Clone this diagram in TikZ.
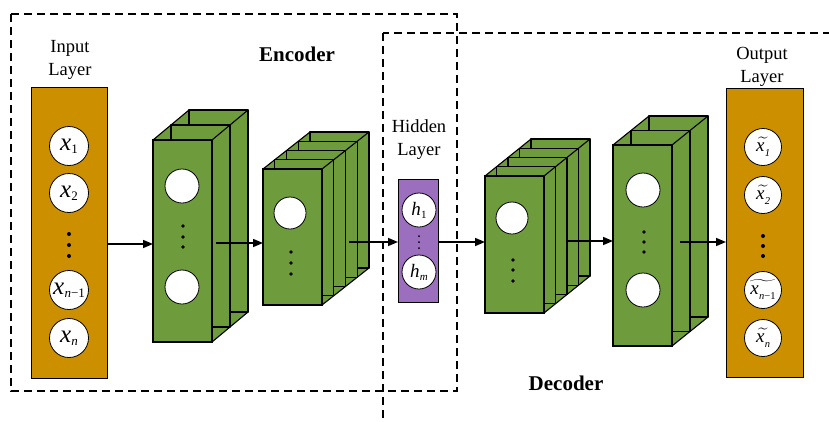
\documentclass[tikz,border=0pt]{standalone}
\usepackage{fontspec}
\usepackage{amsmath}
\setmainfont{Liberation Serif}
\usetikzlibrary{arrows.meta}
\definecolor{layerorange}{RGB}{204,143,0}
\definecolor{slabgreen}{RGB}{110,155,59}
\definecolor{hidpurple}{RGB}{155,110,190}
\newcommand{\featstack}[7]{% #1 X0, #2 Y0, #3 W, #4 H, #5 dx, #6 dy, #7 n
  \filldraw[slabst] (#1,#2) -- ({#1+#7*(#5)},{#2+#7*(#6)}) -- ({#1+#7*(#5)+#3},{#2+#7*(#6)}) -- ({#1+#7*(#5)+#3},{#2+#7*(#6)+#4}) -- ({#1+#3},{#2+#4}) -- (#1,{#2+#4}) -- cycle;
  \foreach \k in {#7,...,1} {\filldraw[slabst] ({#1+\k*(#5)},{#2+\k*(#6)}) rectangle ++(#3,#4);}
}
\newcommand{\ivar}[3]{{\fontsize{#1}{#1}\selectfont\itshape x}\kern0.3pt\raisebox{-0.32em}{\fontsize{#2}{#2}\selectfont #3}}
\newcommand{\hvar}[1]{{\fontsize{19}{19}\selectfont\itshape h}\kern0.2pt\raisebox{-0.3em}{\fontsize{11}{11}\selectfont #1}}
\newcommand{\tvar}[1]{\fontsize{19}{19}\selectfont$\widetilde{\mbox{\fontsize{19}{19}\selectfont\itshape x\kern0.3pt\raisebox{-0.3em}{\fontsize{10.5}{10.5}\selectfont #1}}}$}
\begin{document}
\begin{tikzpicture}[x=1pt,y=-1pt,
  slabst/.style={fill=slabgreen,draw=black,line width=1.1pt,line join=round},
  face/.style={rectangle,fill=slabgreen,draw=black,line width=1.1pt,inner sep=0,outer sep=0},
  edgeline/.style={draw=black,line width=1.1pt},
  layerbox/.style={rectangle,draw=black,line width=1pt,fill=layerorange,inner sep=0,outer sep=0},
  hidbox/.style={rectangle,draw=black,line width=1pt,fill=hidpurple,inner sep=0,outer sep=0},
  neuron/.style={circle,fill=white,draw=black,line width=0.8pt,inner sep=0,outer sep=0,minimum size=#1},
  arr/.style={line width=1.5pt,-{Triangle[length=10pt,width=8pt]}},
  region/.style={dash pattern=on 8pt off 5pt,line width=1.2pt},
  lbl/.style={font=\fontsize{18.5}{23}\selectfont,align=center,inner sep=0},
  parttitle/.style={font=\fontsize{21}{25}\selectfont\bfseries,inner sep=0},
  dotf/.style={fill=black}
]
\clip (0,0) rectangle (829,421);
\fill[white] (0,0) rectangle (829,421);

% dashed regions
\draw[region] (11,14) rectangle (457,391);
\draw[region] (383,33) rectangle (850,440);

% titles
\node[parttitle] (enc) at (297,54) {Encoder};
\node[parttitle] (dec) at (566,383) {Decoder};

% input layer
\node[lbl] (inlbl) at (70,60) {Input\\Layer};
\node[layerbox,minimum width=76,minimum height=291] (inp) at (69,232.5) {};
\node[neuron=39] (x1) at (69,146) {\ivar{25}{13}{1}};
\node[neuron=39] (x2) at (69,193) {\ivar{25}{13}{2}};
\fill[dotf] (69,234) circle (2) (69,245) circle (2) (69,256) circle (2);
\node[neuron=39] (xn1) at (69,290) {\ivar{25}{13}{\itshape n\upshape−1}};
\node[neuron=39] (xn) at (69,338) {\ivar{25}{13}{\itshape n}};

% encoder block 1
\featstack{153}{140}{59}{202}{18}{-15}{2}
\node[face,minimum width=59,minimum height=202] (e1) at (182.5,241) {};
\draw[edgeline] (e1.north east) -- ++(36,-30);
\node[neuron=34] (e1a) at (182,186) {};
\node[neuron=34] (e1b) at (182,287) {};
\fill[dotf] (183,226) circle (1.8) (183,237) circle (1.8) (183,247) circle (1.8);

% encoder block 2
\featstack{263}{169}{59}{136}{11.75}{-9.25}{4}
\node[face,minimum width=59,minimum height=136] (e2) at (292.5,237) {};
\draw[edgeline] (e2.north east) -- ++(47,-37);
\node[neuron=32] (e2a) at (290,213) {};
\fill[dotf] (291,252) circle (1.8) (291,263) circle (1.8) (291,274) circle (1.8);

% hidden layer
\node[lbl] (hidlbl) at (419,140) {Hidden\\Layer};
\node[hidbox,minimum width=40,minimum height=123] (hid) at (418,240.5) {};
\node[neuron=34] (h1) at (419,210) {\hvar{1}};
\node[neuron=34] (hm) at (419,272) {\hvar{\itshape m}};
\fill[dotf] (419,236) circle (1) (419,242) circle (1) (419,248) circle (1);

% decoder block 1
\featstack{485}{176}{59}{137}{11.5}{-9.25}{4}
\node[face,minimum width=59,minimum height=137] (d1) at (514.5,244.5) {};
\draw[edgeline] (d1.north east) -- ++(46,-37);
\node[neuron=32] (d1a) at (512,218) {};
\fill[dotf] (513,260) circle (1.8) (513,270) circle (1.8) (513,281) circle (1.8);

% decoder block 2
\featstack{613}{145}{59}{201}{18}{-14.5}{2}
\node[face,minimum width=59,minimum height=201] (d2) at (642.5,245.5) {};
\draw[edgeline] (d2.north east) -- ++(36,-29);
\node[neuron=34] (d2a) at (643,190) {};
\node[neuron=34] (d2b) at (643,290) {};
\fill[dotf] (644,232) circle (1.8) (644,242) circle (1.8) (644,252) circle (1.8);

% output layer
\node[lbl] (outlbl) at (762,67) {Output\\Layer};
\node[layerbox,minimum width=77,minimum height=289] (outp) at (764.5,232.5) {};
\node[neuron=37] (y1) at (763,147) {\tvar{1}};
\node[neuron=37] (y2) at (763,195) {\tvar{2}};
\fill[dotf] (763,236) circle (2) (763,246) circle (2) (763,256) circle (2);
\node[neuron=37] (yn1) at (763,290) {\tvar{\itshape n\upshape−1}};
\node[neuron=37] (yn) at (763,338) {\tvar{\itshape n}};

% connectors
\coordinate (a1s) at (107,244);
\coordinate (a2s) at (216,243);
\coordinate (a3s) at (349,242);
\coordinate (a4s) at (438,242);
\coordinate (a5s) at (567,241);
\coordinate (a6s) at (680,242);
\draw[arr] (a1s) -- (a1s -| e1.west);
\draw[arr] (a2s) -- (a2s -| e2.west);
\draw[arr] (a3s) -- (a3s -| hid.west);
\draw[arr] (a4s) -- (a4s -| d1.west);
\draw[arr] (a5s) -- (a5s -| d2.west);
\draw[arr] (a6s) -- (a6s -| outp.west);
\end{tikzpicture}
\end{document}
